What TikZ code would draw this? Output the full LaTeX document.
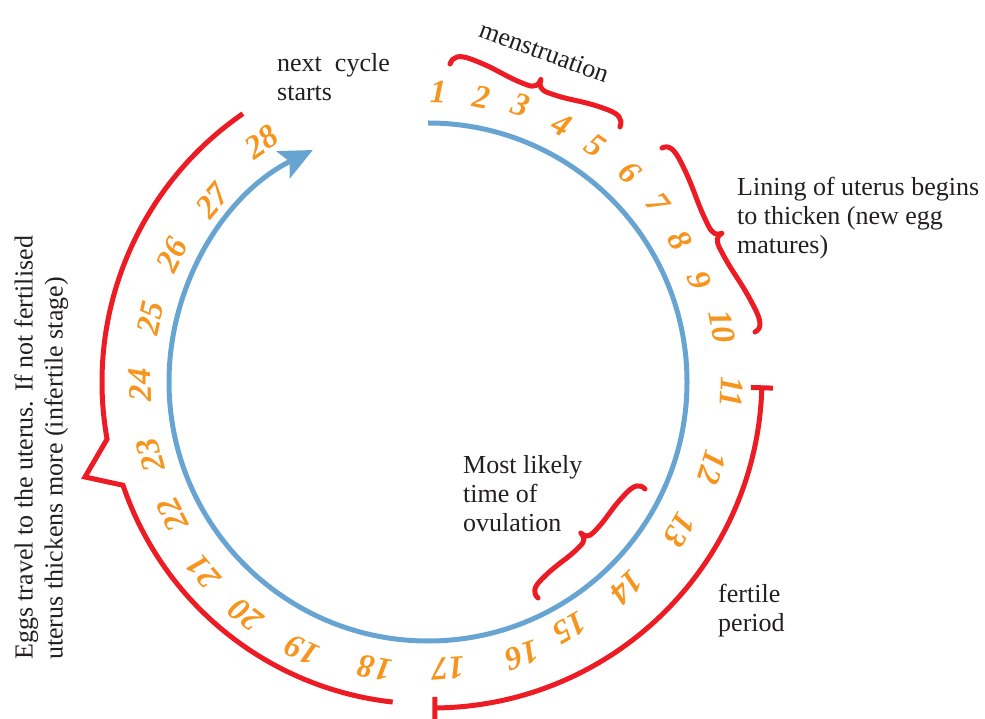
\documentclass[tikz,border=0pt]{standalone}
\usepackage{fontspec}
\setmainfont{Liberation Serif}
\usetikzlibrary{arrows.meta,calc}
\definecolor{cblue}{RGB}{104,164,210}
\definecolor{cred}{RGB}{237,28,36}
\definecolor{corange}{RGB}{247,148,29}
\definecolor{ctext}{RGB}{35,31,32}
% curly brace from (#1,#2) to (#3,#4), tip on the left of that direction, amplitude #5
\newcommand{\curlybr}[5]{%
  \pgfmathsetmacro\bang{atan2(#4-#2,#3-#1)}%
  \pgfmathsetmacro\blen{veclen(#3-#1,#4-#2)}%
  \begin{scope}[shift={(#1,#2)},rotate=\bang]
    \draw[bracestyle] (0,0)
      .. controls (0,{0.5*#5}) and ({0.03*\blen},{0.7*#5}) .. ({0.1*\blen},{0.7*#5})
      .. controls ({0.26*\blen},{0.7*#5}) and ({0.3*\blen},{0.42*#5}) .. ({0.44*\blen},{0.42*#5})
      .. controls ({0.48*\blen},{0.42*#5}) and ({0.5*\blen},{0.6*#5}) .. ({0.5*\blen},{#5})
      .. controls ({0.5*\blen},{0.6*#5}) and ({0.52*\blen},{0.42*#5}) .. ({0.56*\blen},{0.42*#5})
      .. controls ({0.7*\blen},{0.42*#5}) and ({0.74*\blen},{0.7*#5}) .. ({0.9*\blen},{0.7*#5})
      .. controls ({0.97*\blen},{0.7*#5}) and (\blen,{0.5*#5}) .. (\blen,0);
  \end{scope}}
\begin{document}
\begin{tikzpicture}[x=1pt,y=1pt,
  redline/.style={draw=cred,line width=5pt},
  bluearc/.style={draw=cblue,line width=5pt},
  num/.style={text=corange,font=\fontsize{33}{33}\selectfont\bfseries\itshape,inner sep=0pt},
  lbl/.style={text=ctext,font=\fontsize{26}{29}\selectfont,align=left,inner sep=0pt,anchor=north west},
  bracestyle/.style={draw=cred,line width=5pt,line cap=round,line join=round},
]
\path[use as bounding box] (0,0) rectangle (985,718);
\coordinate (C) at (428,336);
\coordinate (C2) at (432,340);
% blue cycle arrow
\draw[bluearc,-{Stealth[length=33pt,width=30pt,inset=7pt]}] ($(C)+(90:259)$) arc[start angle=90,end angle=-243.6,radius=259];
% left red bracket (infertile stage)
\draw[redline,line join=miter] ($(C)+(124.6:326)$) arc[start angle=124.6,end angle=190.1,radius=326]
  -- (85,241) -- ($(C)+(198.7:322)$) arc[start angle=198.7,end angle=263.7,radius=322];
% fertile period bracket
\draw[redline] ($(C2)+(-1.7:330)$) arc[start angle=-1.7,end angle=-89.5,radius=330];
\draw[redline] ($(C2)+(-1.7:319)$) -- ($(C2)+(-1.7:341)$);
\draw[redline] ($(C2)+(-89.5:319)$) -- ($(C2)+(-89.5:341)$);
% braces
\curlybr{450}{654}{620}{591}{17}
\curlybr{662}{570}{755}{386}{15}
\curlybr{538}{120}{645}{229}{15}
% day numbers
\foreach \n/\a/\r in {1/88.0/290, 2/79.3/290, 3/71.4/292, 4/62.5/290, 5/54.7/290,
  6/46.1/291, 7/37.9/291, 8/29.4/289, 9/20.6/290, 10/10.6/299, 11/-1.9/304,
  12/-16.8/297, 13/-30.4/292, 14/-46.0/286, 15/-60.0/284, 16/-71.0/289,
  17/-86.0/287, 18/-100.5/291, 19/-115.2/296, 20/-128.1/296, 21/-139.8/294,
  22/-152.5/288, 23/-165.3/287, 24/-179.4/288, 25/167.0/285, 26/153.6/286,
  27/139.9/282, 28/124.7/292}
  \node[num,rotate=\a-90] (n\n) at ($(C)+(\a:\r)$) {\n};
% labels
\node[lbl,anchor=center,rotate=-20] (tmens) at ($(C)+(70.6:350)$) {menstruation};
\node[lbl] (tnext) at (277,665) {next\ \ cycle\\starts};
\node[lbl] (tlining) at (737,541) {Lining of uterus begins\\to thicken (new egg\\matures)};
\node[lbl] (tovul) at (463,263) {Most likely\\time of\\ovulation};
\node[lbl] (tfert) at (718,134) {fertile\\period};
\node[lbl,rotate=90,font=\fontsize{26}{30}\selectfont] (teggs) at (14,58)
  {Eggs travel to the uterus. If not fertilised\\uterus thickens more (infertile stage)};
\end{tikzpicture}
\end{document}
